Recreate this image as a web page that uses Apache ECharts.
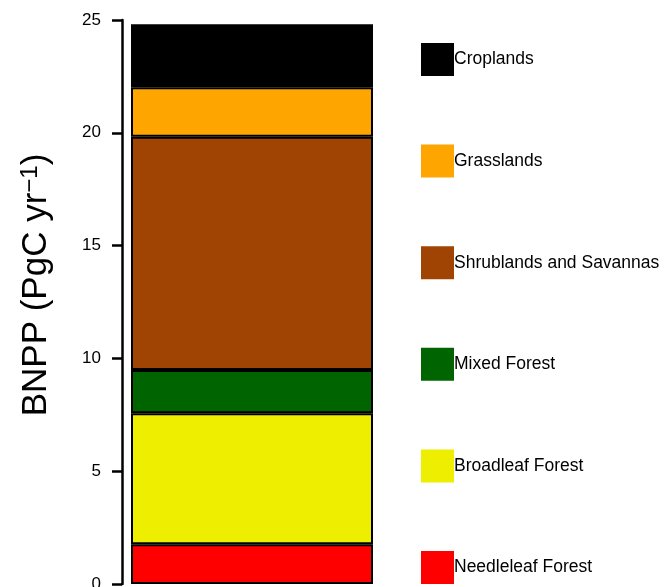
<!DOCTYPE html>
<html>
<head>
<meta charset="utf-8">
<script src="https://cdn.jsdelivr.net/npm/echarts@6/dist/echarts.min.js"></script>
<style>
  html, body { margin: 0; padding: 0; background: #fff; }
  #chart { width: 665px; height: 587px; }
</style>
</head>
<body>
<div id="chart"></div>
<script>
// Biome classes, bottom of the stack first
const biomes = ['Needleleaf Forest', 'Broadleaf Forest', 'Mixed Forest',
                'Shrublands and Savannas', 'Grasslands', 'Croplands'];
// Belowground NPP per biome (PgC / yr)
const bnpp = [1.76, 5.81, 1.92, 10.34, 2.19, 2.79];
const colors = ['#FF0000', '#EEEE00', '#006400', '#A04403', '#FFA500', '#000000'];
const yTicks = [0, 5, 10, 15, 20, 25];

const FONT = 'Liberation Sans, Arial, sans-serif';
const chart = echarts.init(document.getElementById('chart'), null, { renderer: 'canvas' });

const series = biomes.map((name, i) => ({
  name: name,
  type: 'bar',
  stack: 'total',
  barWidth: 242,
  data: [bnpp[i]],
  itemStyle: { color: colors[i], borderColor: '#000', borderWidth: 2 },
  emphasis: { disabled: true }
}));

chart.setOption({
  animation: false,
  textStyle: { fontFamily: FONT },
  grid: { left: 122, right: 283, top: 20, bottom: 3, outerBoundsMode: 'none', containLabel: false },
  xAxis: {
    type: 'category',
    data: ['BNPP'],
    show: false
  },
  yAxis: {
    type: 'value',
    min: yTicks[0],
    max: yTicks[yTicks.length - 1],
    interval: 5,
    axisLine: { show: true, lineStyle: { color: '#000', width: 2.5 } },
    axisTick: { show: true, length: 10, lineStyle: { color: '#000', width: 2.5 } },
    axisLabel: {
      show: true, margin: 21, fontSize: 17, color: '#000', fontFamily: FONT,
      formatter: v => yTicks.includes(v) ? String(v) : ''
    },
    splitLine: { show: false }
  },
  legend: {
    orient: 'vertical',
    left: 421,
    top: 43,
    height: 560,
    padding: 0,
    itemWidth: 33,
    itemHeight: 33,
    itemGap: 68.6,
    icon: 'rect',
    data: biomes.slice().reverse(),
    textStyle: { fontSize: 17.5, color: '#000', fontFamily: FONT, padding: [0, 0, 0, -5] },
    itemStyle: { borderWidth: 0 },
    selectedMode: false
  },
  graphic: [{
    type: 'text',
    x: 36,
    y: 285,
    rotation: Math.PI / 2,
    silent: true,
    style: {
      text: '{a|BNPP (PgC yr}{s|−1}{a|)}',
      align: 'center',
      verticalAlign: 'middle',
      rich: {
        a: { fontSize: 35, fill: '#000', fontFamily: FONT },
        s: { fontSize: 24, fill: '#000', fontFamily: FONT, verticalAlign: 'top', padding: [0, 0, 12, 0] }
      }
    }
  }],
  series: series
});
</script>
</body>
</html>
